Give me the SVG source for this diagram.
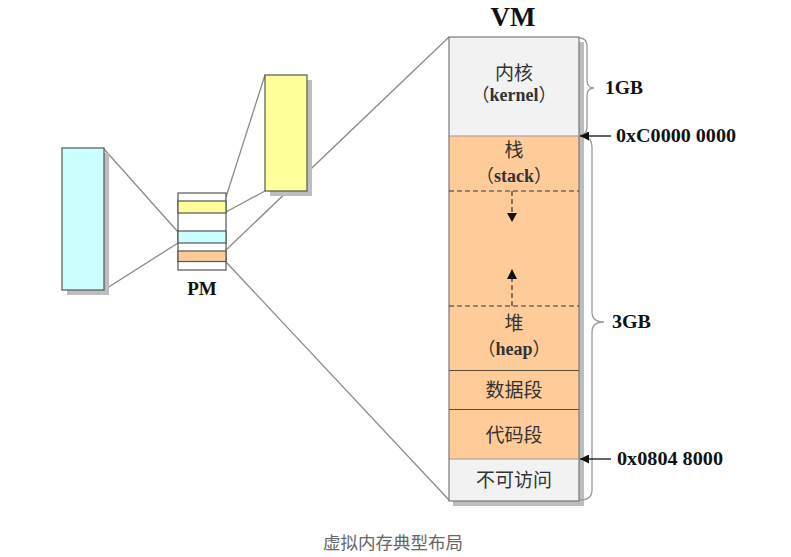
<svg xmlns="http://www.w3.org/2000/svg" width="791" height="557" viewBox="0 0 791 557">
<style>
.bx{stroke:#555;stroke-width:1.2}
.sh{fill:#bdbdbd}
.conn{stroke:#8a8a8a;stroke-width:1.3;fill:none}
.lbl{font-family:"Liberation Serif","Noto Sans CJK SC",serif;font-weight:bold;fill:#111}
.cn{font-family:"Liberation Serif","Noto Sans CJK SC",serif;font-size:19px;fill:#333;text-anchor:middle}
.cnb{font-family:"Liberation Serif","Noto Sans CJK SC",serif;font-size:18px;font-weight:bold;fill:#333;text-anchor:middle}
.fp{font-family:"Noto Sans CJK SC",sans-serif;font-weight:normal}
.div{stroke:#5a4a3a;stroke-width:1.2}
.dash{stroke:#333;stroke-width:1.2;stroke-dasharray:5,3;fill:none}
.brace{stroke:#999;stroke-width:1.3;fill:none}
</style>
<defs>
<marker id="ah" viewBox="0 0 10 10" refX="10" refY="5" markerWidth="9" markerHeight="9" markerUnits="userSpaceOnUse" orient="auto">
<path d="M0,0 L10,5 L0,10 z" fill="#111"/>
</marker>
</defs>
<rect width="791" height="557" fill="#fff"/>

<g id="connectors">
<line class="conn" x1="104" y1="149" x2="178" y2="232"/>
<line class="conn" x1="104" y1="290" x2="178" y2="243"/>
<line class="conn" x1="226" y1="197" x2="265" y2="75"/>
<line class="conn" x1="226" y1="212" x2="265" y2="191"/>
<line class="conn" x1="226" y1="250" x2="449" y2="37"/>
<line class="conn" x1="226" y1="262" x2="449" y2="500"/>
</g>

<g id="cyan-block">
<rect class="sh" x="67" y="153" width="42" height="142"/>
<rect class="bx" x="62" y="148" width="42" height="142" fill="#ccffff"/>
</g>

<g id="yellow-block">
<rect class="sh" x="270" y="80" width="42" height="116"/>
<rect class="bx" x="265" y="75" width="42" height="116" fill="#ffff99"/>
</g>

<g id="pm">
<rect class="bx" x="178" y="193" width="48" height="77" fill="#fff"/>
<rect class="bx" x="178" y="201" width="48" height="12" fill="#ffff99"/>
<rect class="bx" x="178" y="231" width="48" height="12" fill="#ccffff"/>
<rect class="bx" x="178" y="251" width="48" height="10.5" fill="#ffcc99"/>
<text class="lbl" x="202" y="295" font-size="19" text-anchor="middle">PM</text>
</g>

<g id="vm">
<rect class="sh" x="453" y="42" width="131" height="464"/>
<rect x="449" y="37" width="130" height="99" fill="#f2f2f2"/>
<rect x="449" y="136" width="130" height="323" fill="#ffcc99"/>
<rect x="449" y="459" width="130" height="42" fill="#f2f2f2"/>
<line class="div" x1="449" y1="370.5" x2="579" y2="370.5"/>
<line class="div" x1="449" y1="409.5" x2="579" y2="409.5"/>
<line x1="449" y1="136" x2="579" y2="136" stroke="#999" stroke-width="1.2"/>
<line x1="449" y1="459" x2="579" y2="459" stroke="#999" stroke-width="1.2"/>
<rect x="449" y="37" width="130" height="464" fill="none" stroke="#777" stroke-width="1.2"/>
<line class="dash" x1="449" y1="191" x2="579" y2="191"/>
<line class="dash" x1="449" y1="306" x2="579" y2="306"/>
<line class="dash" x1="512" y1="191" x2="512" y2="214"/>
<path d="M507,213 L517,213 L512,222 z" fill="#111"/>
<line class="dash" x1="512" y1="306" x2="512" y2="278"/>
<path d="M507,279 L517,279 L512,269 z" fill="#111"/>
<text class="lbl" x="513" y="26" font-size="27" text-anchor="middle">VM</text>
<text class="cn" x="514" y="80">内核</text>
<text class="cnb" x="514" y="101"><tspan class="fp">（</tspan>kernel<tspan class="fp">）</tspan></text>
<text class="cn" x="514" y="157">栈</text>
<text class="cnb" x="514" y="182"><tspan class="fp">（</tspan>stack<tspan class="fp">）</tspan></text>
<text class="cn" x="514" y="330">堆</text>
<text class="cnb" x="514" y="355"><tspan class="fp">（</tspan>heap<tspan class="fp">）</tspan></text>
<text class="cn" x="514" y="397">数据段</text>
<text class="cn" x="514" y="442">代码段</text>
<text class="cn" x="514" y="487">不可访问</text>
</g>

<g id="braces">
<path class="brace" d="M579,38 Q587,38 587,46 L587,80 Q587,88 594,88 Q587,88 587,96 L587,127 Q587,135 579,135"/>
<path class="brace" d="M583,137 Q592,137 592,147 L592,312 Q592,322 604,322 Q592,322 592,332 L592,490 Q592,500 580,500"/>
</g>

<g id="labels">
<text class="lbl" x="605" y="94" font-size="18" textLength="38" lengthAdjust="spacingAndGlyphs">1GB</text>
<text class="lbl" x="612" y="328" font-size="18" textLength="39" lengthAdjust="spacingAndGlyphs">3GB</text>
<line x1="611" y1="136" x2="580" y2="136" stroke="#111" stroke-width="1.3" marker-end="url(#ah)"/>
<text class="lbl" x="616" y="142" font-size="18" textLength="120" lengthAdjust="spacingAndGlyphs">0xC0000 0000</text>
<line x1="611" y1="459" x2="580" y2="459" stroke="#111" stroke-width="1.3" marker-end="url(#ah)"/>
<text class="lbl" x="617" y="465" font-size="18" textLength="106" lengthAdjust="spacingAndGlyphs">0x0804 8000</text>
</g>

<text x="393" y="549" font-family="'Noto Sans CJK SC',sans-serif" font-size="17.5" fill="#666" text-anchor="middle">虚拟内存典型布局</text>
</svg>
